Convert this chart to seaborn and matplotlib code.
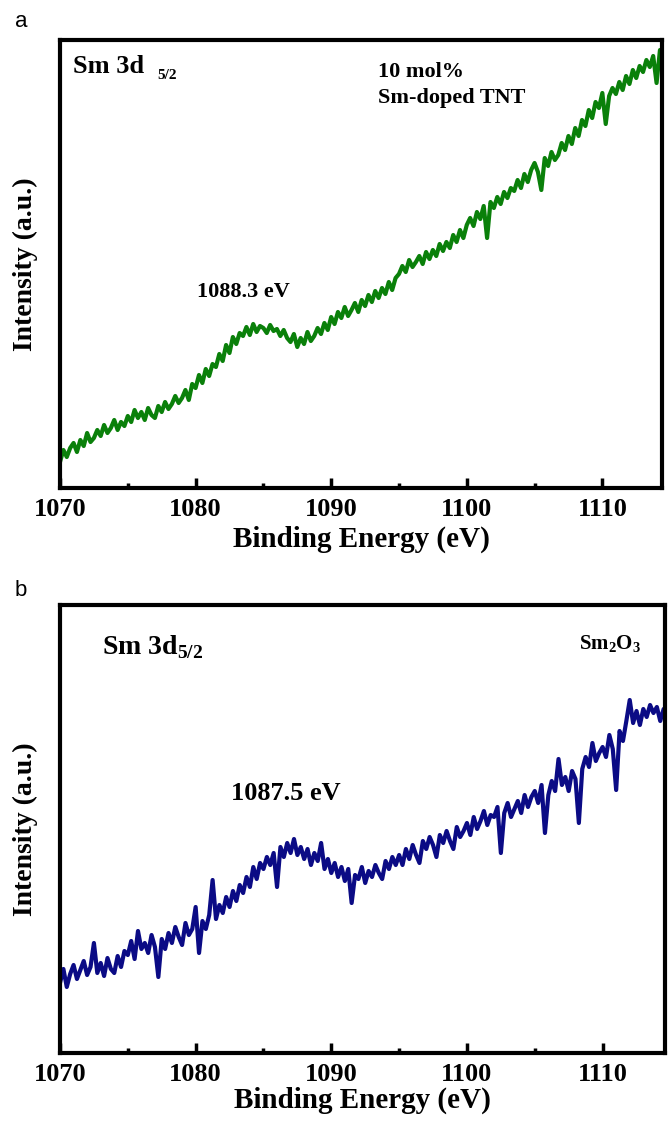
import numpy as np
import pandas as pd
import matplotlib
matplotlib.use("Agg")
import matplotlib.pyplot as plt
from matplotlib.ticker import MultipleLocator
import seaborn as sns

# binding energy grid (eV)
energy = np.arange(1070, 1115.001, 0.25)

# Sm 3d5/2 intensity, 10 mol% Sm-doped TNT (arb. units)
tnt_counts = [
    26, 38, 31, 40, 45, 36, 48, 42, 55, 46, 50, 58, 52, 63, 55, 60, 68, 58, 66, 62,
    72, 66, 78, 70, 76, 68, 80, 73, 70, 82, 76, 86, 79, 84, 92, 85, 90, 98, 88, 104,
    100, 113, 105, 119, 112, 124, 121, 134, 127, 143, 135, 151, 144, 155, 152, 161, 153, 164, 156, 162,
    160, 155, 163, 157, 159, 152, 158, 150, 146, 154, 141, 150, 144, 156, 147, 152, 160, 154, 165, 158,
    171, 164, 176, 170, 181, 172, 178, 185, 176, 188, 182, 193, 186, 197, 190, 200, 194, 206, 198, 210,
    214, 222, 216, 228, 221, 226, 232, 224, 236, 229, 238, 232, 244, 237, 246, 240, 253, 246, 258, 250,
    263, 270, 262, 276, 269, 282, 250, 286, 280, 291, 284, 296, 290, 300, 297, 308, 300, 314, 306, 318,
    325, 316, 298, 330, 322, 336, 328, 333, 345, 338, 352, 344, 360, 352, 368, 362, 378, 370, 386, 380,
    395, 364, 392, 400, 394, 406, 398, 412, 404, 418, 410, 422, 416, 428, 421, 432, 405, 438, 430, 444,
    446,
]

# Sm 3d5/2 intensity, Sm2O3 reference
sm2o3_counts = [
    70, 84, 66, 79, 88, 74, 83, 92, 78, 86, 110, 80, 90, 77, 95, 84, 80, 97, 86, 102,
    98, 112, 94, 122, 104, 110, 100, 118, 106, 76, 114, 104, 120, 110, 126, 116, 108, 130, 118, 124,
    146, 100, 132, 124, 138, 173, 134, 148, 140, 156, 146, 162, 152, 168, 160, 176, 166, 186, 174, 190,
    184, 196, 188, 200, 166, 206, 196, 210, 200, 214, 198, 206, 194, 204, 188, 200, 192, 210, 184, 194,
    180, 190, 176, 186, 172, 184, 150, 178, 174, 186, 170, 182, 176, 188, 180, 174, 192, 184, 196, 188,
    198, 188, 204, 194, 208, 198, 190, 212, 204, 216, 208, 196, 218, 210, 222, 212, 204, 226, 216, 222,
    230, 218, 236, 224, 232, 242, 228, 238, 236, 246, 200, 240, 250, 236, 244, 252, 240, 258, 246, 256,
    262, 250, 268, 220, 258, 272, 262, 294, 268, 276, 262, 282, 274, 230, 284, 296, 286, 310, 292, 300,
    306, 296, 318, 304, 263, 322, 312, 332, 353, 330, 342, 328, 344, 336, 348, 340, 346, 332, 344, 338,
    340,
]

df_a = pd.DataFrame({"energy": energy, "intensity": tnt_counts})
df_b = pd.DataFrame({"energy": energy, "intensity": sm2o3_counts})

sns.set_style("white")
plt.rcParams.update({
    "font.family": ["Liberation Serif", "DejaVu Serif"],
    "font.weight": "bold",
    "axes.labelweight": "bold",
    "mathtext.fontset": "custom",
    "mathtext.rm": "Liberation Serif:bold",
    "mathtext.bf": "Liberation Serif:bold",
    "text.color": "black",
    "axes.labelcolor": "black",
    "axes.edgecolor": "black",
    "xtick.color": "black",
    "ytick.color": "black",
})

fig = plt.figure(figsize=(6.71, 11.26), dpi=100)
ax_a = fig.add_axes([60 / 671, 1 - 488 / 1126, 602 / 671, 448 / 1126])
ax_b = fig.add_axes([60 / 671, 1 - 1053 / 1126, 605 / 671, 448 / 1126])

sns.lineplot(data=df_a, x="energy", y="intensity", ax=ax_a, color="#0a800a",
             linewidth=3.0, estimator=None)
sns.lineplot(data=df_b, x="energy", y="intensity", ax=ax_b, color="#0b0b85",
             linewidth=3.0, estimator=None)


def style_axis(ax, xmax, xlab_y):
    ax.set_xlim(1070, xmax)
    ax.set_ylim(0, 448)
    ax.set_yticks([])
    ax.xaxis.set_major_locator(MultipleLocator(10))
    ax.xaxis.set_minor_locator(MultipleLocator(5))
    ax.tick_params(axis="x", which="major", direction="in", length=7, width=2.5,
                   labelsize=19, pad=7, bottom=True, top=False)
    ax.tick_params(axis="x", which="minor", direction="in", length=3.5, width=2.5,
                   bottom=True, top=False)
    for sp in ax.spines.values():
        sp.set_visible(True)
        sp.set_linewidth(3)
        sp.set_color("black")
    ax.set_xlabel("Binding Energy (eV)", fontsize=21, fontweight="bold")
    ax.set_ylabel("Intensity (a.u.)", fontsize=20, fontweight="bold")
    ax.xaxis.set_label_coords(0.5, xlab_y)
    ax.yaxis.set_label_coords(-0.036, 0.5)


style_axis(ax_a, 1114.4, -0.085)
style_axis(ax_b, 1114.6, -0.075)

# panel a labels
ax_a.text(0.022, 0.94, "Sm 3d", transform=ax_a.transAxes, fontsize=19,
          ha="left", va="center")
ax_a.text(0.161, 0.92, "5/2", transform=ax_a.transAxes, fontsize=11,
          ha="left", va="center")
ax_a.text(0.528, 0.929, "10 mol%", transform=ax_a.transAxes, fontsize=16,
          ha="left", va="center")
ax_a.text(0.528, 0.871, "Sm-doped TNT", transform=ax_a.transAxes, fontsize=16,
          ha="left", va="center")
ax_a.text(0.305, 0.4375, "1088.3 eV", transform=ax_a.transAxes, fontsize=16,
          ha="center", va="center")

# panel b labels
ax_b.text(0.07, 0.905, r"Sm 3d$_{\mathbf{5/2}}$", transform=ax_b.transAxes,
          fontsize=20, ha="left", va="center")
ax_b.text(0.909, 0.915, r"$\mathbf{Sm_2O_3}$", transform=ax_b.transAxes,
          fontsize=15, ha="center", va="center")
ax_b.text(0.374, 0.58, "1087.5 eV", transform=ax_b.transAxes, fontsize=19,
          ha="center", va="center")

fig.text(15 / 671, 1 - 27 / 1126, "a", fontsize=16, family="Liberation Sans",
         fontweight="normal", ha="left", va="baseline")
fig.text(15 / 671, 1 - 596 / 1126, "b", fontsize=16, family="Liberation Sans",
         fontweight="normal", ha="left", va="baseline")

fig.savefig("out.png", dpi=100)
